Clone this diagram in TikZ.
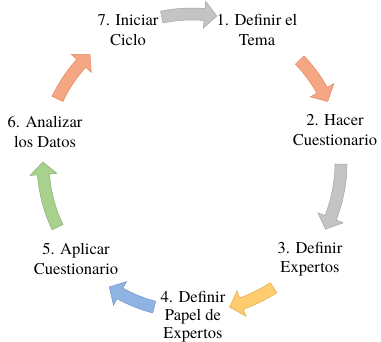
\documentclass[tikz,border=0pt]{standalone}
\usepackage{fontspec}
\setmainfont{TeX Gyre Termes}
\newfontfamily\cycserif{TeX Gyre Termes}
\definecolor{grayF}{HTML}{C4C4C4}
\definecolor{grayD}{HTML}{A3A3A3}
\definecolor{salF}{HTML}{F5A683}
\definecolor{salD}{HTML}{E08865}
\definecolor{goldF}{HTML}{FFCB6F}
\definecolor{goldD}{HTML}{E3AC4E}
\definecolor{blueF}{HTML}{8FB4E3}
\definecolor{blueD}{HTML}{6E94C6}
\definecolor{greenF}{HTML}{A9D18E}
\definecolor{greenD}{HTML}{87B06C}
\def\cycRo{155}
\def\cycRi{143}
\def\cycRm{149}
\def\cycRw{162.5}
\def\cycRn{135.5}
\newcommand{\cycarrow}[4]{%
  \pgfmathsetmacro{\cychb}{#2-4.8}%
  \filldraw[fill=#3, draw=#4, line width=0.5pt, line join=miter]
    plot[domain=#1:\cychb, samples=16] (\x:{\cycRo})
    -- (\cychb:{\cycRw}) -- (#2:{\cycRm}) -- (\cychb:{\cycRn})
    -- plot[domain=\cychb:#1, samples=16] (\x:{\cycRi}) -- cycle;
}
\tikzset{txt/.style={align=center, inner sep=0pt, font=\cycserif\fontsize{16.5}{19.5}\selectfont}}
\begin{document}
\begin{tikzpicture}[x=1pt,y=-1pt]
\useasboundingbox (0,0) rectangle (381,342);
\begin{scope}[shift={(192,163)}]
  \cycarrow{258.3}{279.6}{grayF}{grayD}
  \cycarrow{316.3}{335.6}{salF}{salD}
  \cycarrow{360.4}{386.4}{grayF}{grayD}
  \cycarrow{56.8}{75.4}{goldF}{goldD}
  \cycarrow{104.7}{123.7}{blueF}{blueD}
  \cycarrow{154.5}{180.4}{greenF}{greenD}
  \cycarrow{205.5}{226.8}{salF}{salD}
\end{scope}
\node[txt] (t1) at (257,30) {1. Definir el\\Tema};
\node[txt] (t2) at (335,130) {2. Hacer\\Cuestionario};
\node[txt] (t3) at (310,259) {3. Definir\\Expertos};
\node[txt, font=\cycserif\fontsize{16.5}{18}\selectfont] (t4) at (193,317) {4. Definir\\Papel de\\Expertos};
\node[txt] (t5) at (76,259) {5. Aplicar\\Cuestionario};
\node[txt] (t6) at (45,132) {6. Analizar\\los Datos};
\node[txt] (t7) at (128,30) {7. Iniciar\\Ciclo};
\end{tikzpicture}
\end{document}
